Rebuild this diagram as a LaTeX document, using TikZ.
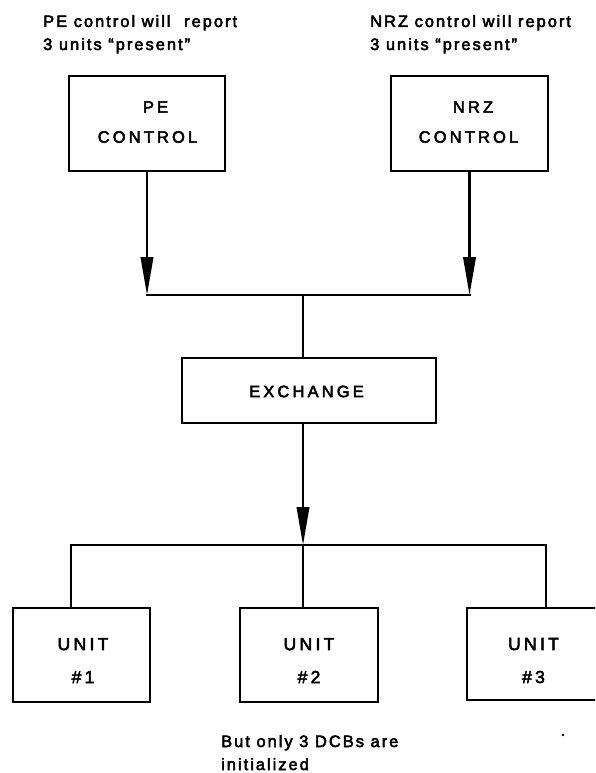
\documentclass[tikz,border=0pt]{standalone}
\usepackage{fontspec}
\setmainfont{Liberation Sans}
\newfontfamily\notefont[LetterSpace=12,FakeBold=3]{Liberation Sans}
\newfontfamily\labelfont[LetterSpace=19,FakeBold=3]{Liberation Sans}
\usetikzlibrary{arrows.meta}
\begin{document}
\begin{tikzpicture}[x=1pt,y=-1pt,
  box/.style={draw,line width=2.6pt,inner sep=0pt},
  lab/.style={inner sep=0pt,align=center,font=\labelfont\fontsize{16.5}{30}\selectfont},
  ulab/.style={inner sep=0pt,align=center,font=\labelfont\fontsize{17.5}{33}\selectfont},
  note/.style={inner sep=0pt,anchor=base west,font=\notefont\fontsize{16.5}{23}\selectfont},
  link/.style={line width=2.2pt,line cap=rect},
  arr/.style={line width=2.2pt,-{Triangle[length=38pt,width=12.5pt]}}]
\useasboundingbox (0,0) rectangle (595,773);
\clip (0,0) rectangle (595,773);
% annotations
\node[note] (pea) at (43,27) {PE control will\hspace{7pt} report};
\node[note] (peb) at (43,50) {3 units “present”};
\node[note] (nrza) at (370,27) {NRZ control will report};
\node[note] (nrzb) at (370,50) {3 units “present”};
% boxes
\node[box,minimum width=156pt,minimum height=95pt] (pe) at (147,123.5) {};
\node[box,minimum width=157pt,minimum height=95pt] (nrz) at (469.5,123.5) {};
\node[box,minimum width=254pt,minimum height=65pt] (ex) at (309,390.5) {};
\node[box,minimum width=137pt,minimum height=94pt] (u1) at (81.5,655) {};
\node[box,minimum width=138pt,minimum height=94pt] (u2) at (309,655) {};
\node[box,minimum width=138pt,minimum height=92pt] (u3) at (536,654) {};
% box labels
\node[lab] (pet) at (147.5,122.1) {\hspace*{16pt}PE\\CONTROL};
\node[lab] (nrzt) at (468.5,122.1) {\hspace*{9pt}NRZ\\CONTROL};
\node[lab] (ext) at (306.5,391.5) {EXCHANGE};
\node[ulab] (u1t) at (83,660.6) {UNIT\\\#1};
\node[ulab] (u2t) at (309,660.6) {UNIT\\\#2};
\node[ulab] (u3t) at (533.5,660.6) {UNIT\\\#3};
% junctions
\coordinate (jt) at (303,295);
\coordinate (jb) at (303,545);
\coordinate (j1) at (71,545);
\coordinate (j3) at (546,545);
% connectors
\draw[arr] (pe.south) -- (pe.south |- jt);
\draw[arr] (nrz.south) -- (nrz.south |- jt);
\draw[link] (pe.south |- jt) -- (nrz.south |- jt);
\draw[link] (jt) -- (jt |- ex.north);
\draw[arr] (jt |- ex.south) -- (jb);
\draw[link] (j1) -- (j3);
\draw[link] (j1) -- (j1 |- u1.north);
\draw[link] (jb) -- (jb |- u2.north);
\draw[link] (j3) -- (j3 |- u3.north);
% bottom note
\node[note] (bt1) at (221,747) {But only 3 DCBs are};
\node[note] (bt2) at (221,770) {initialized};
\fill (563,735) circle (1.4pt);
\end{tikzpicture}
\end{document}
